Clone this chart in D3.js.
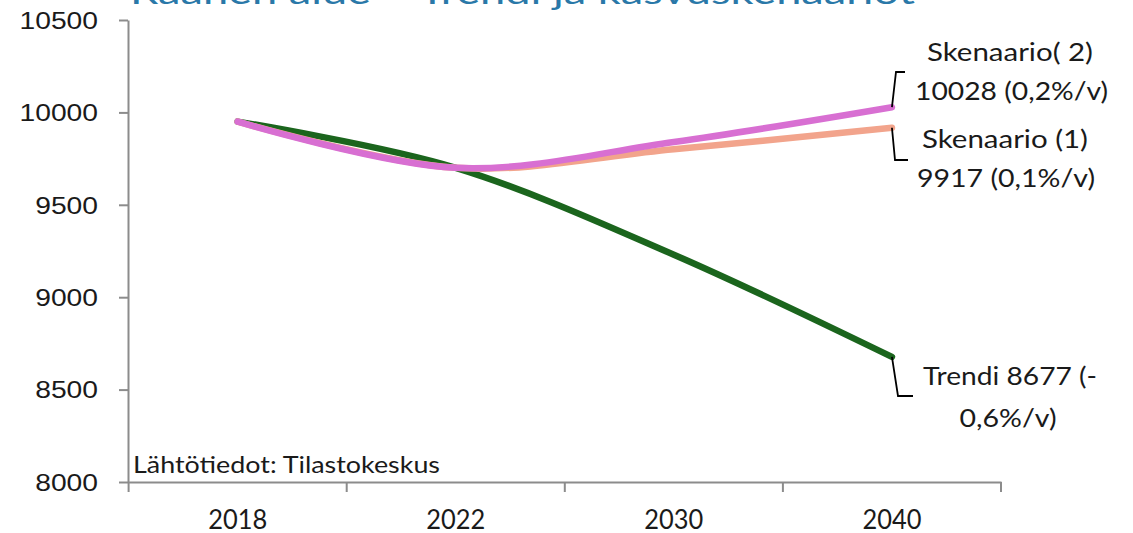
<!DOCTYPE html>
<html><head><meta charset="utf-8">
<script src="https://cdn.jsdelivr.net/npm/d3@7"></script>
<style>html,body{margin:0;padding:0;background:#fff;overflow:hidden}</style>
</head><body>
<svg id="chart" width="1133" height="533"></svg>
<script>
const years = ["2018", "2022", "2030", "2040"];
const trendi = [9950, 9700, 9230, 8677];
const skenaario1 = [9950, 9700, 9800, 9917];
const skenaario2 = [9950, 9700, 9840, 10028];
const yTicks = [8000, 8500, 9000, 9500, 10000, 10500];
const titleText = "Raahen alue – Trendi ja kasvuskenaariot";
const sourceText = "Lähtötiedot: Tilastokeskus";
const callouts = [
  { series: "s2", lines: ["Skenaario( 2)", "10028 (0,2%/v)"] },
  { series: "s1", lines: ["Skenaario (1)", "9917 (0,1%/v)"] },
  { series: "tr", lines: ["Trendi 8677 (-", "0,6%/v)"] }
];

const svg = d3.select("#chart");
const x = d3.scaleBand().domain(years).range([128.6, 1001]);
const y = d3.scaleLinear().domain([8000, 10500]).range([482, 20]);
const axisColor = "#8c8c8c";

// title (cut off at top)
svg.append("text").attr("x", 130).attr("y", 4)
  .attr("font-family", "Lato, sans-serif").attr("font-size", 32)
  .attr("fill", "#2a78a8").attr("textLength", 785).attr("lengthAdjust", "spacingAndGlyphs")
  .text(titleText);

// y axis
const yAxis = svg.append("g").attr("transform", "translate(128,0)")
  .call(d3.axisLeft(y).tickValues(yTicks).tickSize(9).tickSizeOuter(0).tickPadding(21).tickFormat(d3.format("d")));
yAxis.select(".domain").attr("stroke", axisColor).attr("stroke-width", 2);
yAxis.selectAll(".tick line").attr("stroke", axisColor).attr("stroke-width", 2);
yAxis.selectAll(".tick text").attr("font-family", "'Liberation Sans', Arial, sans-serif")
  .attr("font-size", 24.5).attr("fill", "#1a1a1a").attr("dy", "0.34em")
  .attr("textLength", d => String(d).length * 15.7).attr("lengthAdjust", "spacingAndGlyphs");

// x axis
const xAxis = svg.append("g").attr("transform", "translate(0,482)")
  .call(d3.axisBottom(x).tickSize(0).tickSizeOuter(0).tickPadding(0));
xAxis.select(".domain").attr("stroke", axisColor).attr("stroke-width", 2);
xAxis.selectAll(".tick text").attr("font-family", "Lato, sans-serif")
  .attr("font-size", 27).attr("fill", "#1a1a1a").attr("dy", 0).attr("y", 47)
  .attr("textLength", 59).attr("lengthAdjust", "spacingAndGlyphs");
const bounds = years.map(d => x(d)).concat([x(years[years.length - 1]) + x.bandwidth()]);
svg.append("g").selectAll("line").data(bounds).join("line")
  .attr("x1", d => d).attr("x2", d => d).attr("y1", 482).attr("y2", 492)
  .attr("stroke", axisColor).attr("stroke-width", 2);

// source text
svg.append("text").attr("x", 133).attr("y", 473)
  .attr("font-family", "Lato, sans-serif").attr("font-size", 24).attr("fill", "#1a1a1a")
  .attr("textLength", 307).attr("lengthAdjust", "spacingAndGlyphs")
  .text(sourceText);

// lines
const cx = d => x(d) + x.bandwidth() / 2;
const line = d3.line().x((d, i) => cx(years[i])).y(d => y(d)).curve(d3.curveCatmullRom.alpha(0));
const series = [
  { key: "tr", values: trendi, color: "#1b651d" },
  { key: "s1", values: skenaario1, color: "#f2a48c" },
  { key: "s2", values: skenaario2, color: "#d86fd2" }
];
svg.append("g").selectAll("path").data(series).join("path")
  .attr("d", d => line(d.values)).attr("fill", "none")
  .attr("stroke", d => d.color).attr("stroke-width", 6.5).attr("stroke-linecap", "round");

// callouts
const lastX = cx(years[years.length - 1]);
const endVal = { tr: trendi[3], s1: skenaario1[3], s2: skenaario2[3] };
const calloutGeom = {
  s2: { bx: 896, by: 72, hx: 905, tx: [1010, 1011.5], ty: [60.5, 100], w: [166, 193] },
  s1: { bx: 895, by: 160, hx: 908, tx: [1005, 1006], ty: [148.3, 186.7], w: [166, 178] },
  tr: { bx: 898, by: 396, hx: 913, tx: [1010, 1008], ty: [385, 427], w: [174, 97] }
};
const cg = svg.append("g");
callouts.forEach(c => {
  const g = calloutGeom[c.series];
  const yy = y(endVal[c.series]);
  cg.append("path").attr("d", `M${lastX},${yy} L${g.bx},${g.by} L${g.hx},${g.by}`)
    .attr("fill", "none").attr("stroke", "#000").attr("stroke-width", 1.8);
  c.lines.forEach((t, i) => {
    cg.append("text").attr("x", g.tx[i]).attr("y", g.ty[i])
      .attr("text-anchor", "middle")
      .attr("font-family", "Lato, sans-serif").attr("font-size", 25).attr("fill", "#1a1a1a")
      .attr("textLength", g.w[i]).attr("lengthAdjust", "spacingAndGlyphs")
      .text(t);
  });
});
</script>
</body></html>
